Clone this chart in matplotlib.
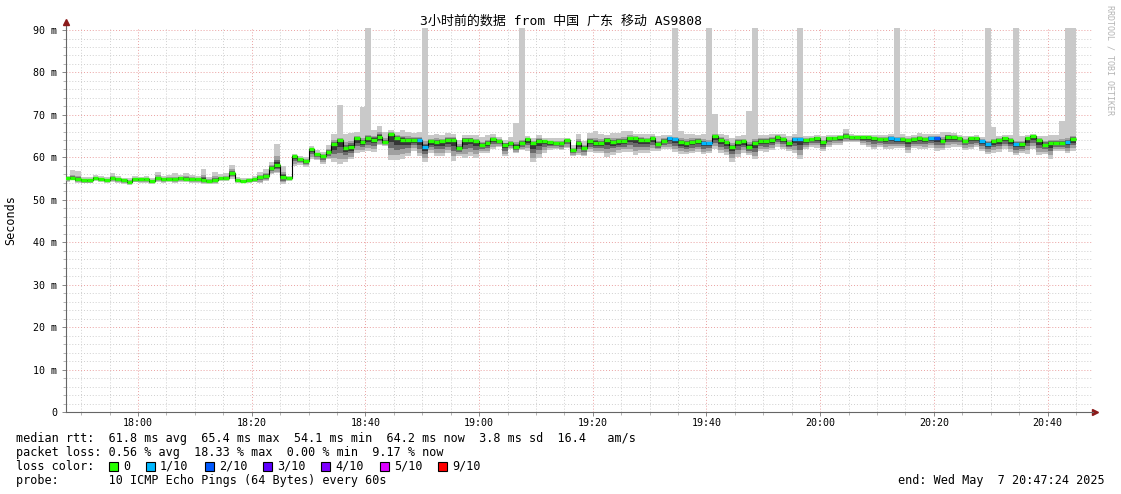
import matplotlib
matplotlib.use("Agg")
import matplotlib.pyplot as plt
from matplotlib.patches import Rectangle
import numpy as np

# --- data (one step = 60 s, first step 17:47) ---
title = "3小时前的数据 from 中国 广东 移动 AS9808"
start_minute = 17 * 60 + 47

median = [
    55.1, 55.1, 54.8, 54.6, 54.6, 55.1, 54.9, 54.7, 55.1, 54.8, 54.6, 54.3, 54.9, 54.8, 54.8, 54.4, 55.1, 54.9, 54.9, 54.9,
    55.2, 55.0, 55.0, 54.9, 54.7, 54.4, 54.7, 55.1, 55.1, 56.4, 54.7, 54.5, 54.6, 54.8, 55.3, 55.6, 57.6, 58.2, 55.4, 55.2,
    60.2, 59.5, 59.2, 61.9, 60.7, 60.3, 61.2, 63.1, 64.0, 62.1, 62.5, 64.5, 63.7, 64.6, 64.2, 64.8, 63.6, 65.5, 64.6, 64.2,
    64.2, 64.2, 64.1, 62.5, 63.8, 63.7, 63.8, 64.1, 64.1, 62.3, 64.2, 64.2, 63.8, 62.9, 63.3, 64.3, 63.8, 63.0, 63.3, 62.5,
    63.3, 64.3, 63.3, 63.9, 63.9, 63.5, 63.3, 63.3, 64.1, 61.7, 63.4, 62.3, 63.8, 63.4, 63.4, 64.2, 63.7, 63.8, 63.8, 64.5,
    64.5, 64.1, 64.0, 64.5, 63.2, 63.9, 64.5, 64.3, 63.5, 63.3, 63.7, 63.9, 63.4, 63.3, 65.0, 64.2, 63.5, 62.5, 63.7, 63.8,
    62.5, 63.3, 63.9, 63.9, 64.1, 64.9, 64.3, 63.3, 64.3, 64.3, 64.1, 64.3, 64.6, 63.5, 64.6, 64.6, 64.7, 65.0, 64.7, 64.7,
    64.7, 64.7, 64.5, 64.3, 64.3, 64.6, 64.3, 64.3, 64.1, 64.3, 64.6, 64.3, 64.6, 64.6, 63.9, 64.9, 64.9, 64.6, 63.9, 64.5,
    64.5, 63.9, 63.1, 63.8, 64.1, 64.6, 64.1, 63.2, 63.1, 64.5, 65.0, 64.1, 63.0, 63.4, 63.4, 63.4, 63.7, 64.3,
]
ping_min = [
    54.2, 54.6, 53.9, 53.9, 53.9, 54.5, 54.3, 54.0, 54.2, 54.0, 53.7, 53.6, 54.1, 53.9, 54.0, 53.7, 54.3, 54.0, 54.2, 54.0,
    54.3, 54.3, 54.0, 54.0, 53.8, 53.8, 53.7, 54.4, 54.4, 55.0, 53.9, 54.0, 54.0, 54.1, 54.0, 54.4, 56.0, 56.2, 53.7, 54.4,
    58.0, 58.3, 57.8, 59.7, 59.3, 58.5, 59.5, 58.8, 58.5, 59.0, 59.5, 61.0, 61.2, 61.5, 61.2, 62.8, 62.6, 59.3, 59.3, 59.7,
    60.2, 61.5, 60.2, 59.0, 61.0, 60.3, 60.3, 61.0, 59.1, 60.3, 59.8, 60.3, 59.8, 61.0, 61.0, 62.0, 62.5, 60.2, 62.0, 61.0,
    61.7, 61.5, 58.8, 59.9, 61.0, 61.7, 62.0, 61.7, 62.1, 60.2, 60.5, 60.2, 61.3, 61.0, 61.0, 60.0, 60.6, 61.0, 61.3, 61.3,
    60.5, 61.0, 61.0, 61.5, 61.5, 62.0, 62.0, 61.3, 60.8, 60.8, 61.0, 61.3, 60.8, 61.0, 62.0, 61.0, 60.5, 59.0, 60.0, 61.0,
    60.5, 59.5, 61.5, 61.3, 61.8, 62.5, 62.0, 61.5, 61.0, 59.5, 62.0, 62.5, 62.3, 61.5, 62.5, 63.0, 63.0, 63.5, 63.5, 63.5,
    63.0, 62.5, 62.0, 62.5, 62.0, 62.0, 62.3, 62.3, 61.0, 62.3, 62.0, 62.0, 62.3, 61.5, 61.8, 62.3, 62.5, 62.5, 61.8, 62.0,
    62.5, 61.5, 60.7, 61.0, 61.3, 62.0, 61.3, 60.5, 61.0, 60.8, 62.0, 60.5, 60.8, 59.6, 61.5, 61.5, 61.0, 61.5,
]
ping_max = [
    55.7, 57.0, 56.8, 55.3, 55.3, 55.8, 55.6, 55.3, 56.3, 55.5, 55.2, 55.1, 55.5, 55.4, 55.5, 55.2, 56.6, 55.6, 55.8, 56.2,
    55.8, 56.3, 55.9, 55.6, 57.2, 55.4, 56.6, 56.0, 56.3, 58.2, 55.3, 55.1, 55.2, 55.5, 56.6, 57.3, 58.8, 63.1, 58.0, 55.6,
    60.8, 60.3, 60.0, 62.6, 61.7, 61.3, 63.0, 65.5, 65.5, 65.5, 65.8, 66.0, 65.5, 66.0, 66.4, 67.5, 66.0, 66.4, 66.0, 66.4,
    66.0, 65.8, 66.0, 65.5, 65.3, 65.5, 65.3, 65.8, 65.5, 64.1, 65.3, 65.3, 65.3, 64.7, 65.3, 65.5, 64.9, 64.1, 64.8, 65.0,
    65.3, 65.0, 64.5, 65.3, 64.5, 64.5, 64.5, 64.5, 64.5, 63.0, 65.5, 63.8, 65.7, 66.1, 65.5, 65.3, 65.7, 65.7, 66.1, 66.1,
    65.5, 65.5, 65.5, 65.5, 65.0, 65.2, 65.3, 65.3, 66.1, 65.5, 65.5, 65.3, 65.5, 65.0, 66.0, 65.5, 65.3, 64.5, 65.0, 65.3,
    65.0, 65.5, 65.3, 65.3, 65.5, 65.5, 65.5, 65.0, 65.5, 65.3, 65.0, 65.0, 65.2, 65.0, 65.3, 65.3, 65.3, 66.6, 65.5, 65.3,
    65.3, 65.3, 65.3, 65.3, 65.3, 65.5, 65.5, 65.5, 65.0, 65.3, 65.8, 65.5, 65.5, 65.5, 66.0, 66.0, 65.7, 65.3, 65.0, 65.0,
    65.3, 64.8, 65.0, 65.0, 65.0, 65.3, 65.3, 65.0, 65.0, 65.3, 65.5, 65.0, 65.0, 65.3, 65.3, 65.5, 65.5, 66.0,
]
# single slow pings (outliers); 95 = off the top of the graph
spike_step = [48, 52, 53, 63, 79, 80, 107, 113, 114, 120, 121, 129, 146, 162, 163, 167, 175, 176, 177]
spike_top = [72.3, 71.9, 95, 95, 68.2, 95, 95, 95, 70.2, 70.9, 95, 95, 95, 95, 67.1, 95, 68.6, 95, 95]
# lost pings out of 10 per step
loss = [
    0, 0, 0, 0, 0, 0, 0, 0, 0, 0, 0, 0, 0, 0, 0, 0, 0, 0, 0, 0,
    0, 0, 0, 0, 0, 0, 0, 0, 0, 0, 0, 0, 0, 0, 0, 0, 0, 0, 0, 0,
    0, 0, 0, 0, 0, 0, 0, 0, 0, 0, 0, 0, 0, 0, 0, 0, 0, 0, 0, 0,
    0, 0, 1, 1, 0, 0, 0, 0, 0, 0, 0, 0, 0, 0, 0, 0, 0, 0, 0, 0,
    0, 0, 0, 0, 0, 0, 0, 0, 0, 0, 0, 0, 0, 0, 0, 0, 0, 0, 0, 0,
    0, 0, 0, 0, 0, 0, 1, 1, 0, 0, 0, 0, 1, 1, 0, 0, 0, 0, 0, 0,
    0, 0, 0, 0, 0, 0, 0, 0, 1, 1, 0, 0, 0, 0, 0, 0, 0, 0, 0, 0,
    0, 0, 0, 0, 0, 1, 1, 0, 0, 0, 0, 0, 1, 2, 0, 0, 0, 0, 0, 0,
    0, 1, 1, 0, 0, 0, 0, 1, 0, 0, 0, 0, 0, 0, 0, 0, 1, 0,
]
loss_labels = ["0", "1/10", "2/10", "3/10", "4/10", "5/10", "9/10"]
loss_colors = ["#26ff00", "#00b8ff", "#0059ff", "#5e00ff", "#7e00ff", "#dd00ff", "#ff0000"]
loss_by_count = {0: "#26ff00", 1: "#00b8ff", 2: "#0059ff", 3: "#5e00ff", 4: "#7e00ff", 5: "#dd00ff", 9: "#ff0000"}

stats_lines = [
    "median rtt:  61.8 ms avg  65.4 ms max  54.1 ms min  64.2 ms now  3.8 ms sd  16.4   am/s",
    "packet loss: 0.56 % avg  18.33 % max  0.00 % min  9.17 % now",
]
probe_line = "probe:       10 ICMP Echo Pings (64 Bytes) every 60s"
end_line = "end: Wed May  7 20:47:24 2025"

W, H = 1121, 494
MONO = ["DejaVu Sans Mono", "Noto Sans CJK SC"]

med = np.array(median)
lo = np.array(ping_min)
hi = np.array(ping_max)
edges = start_minute + np.arange(len(med) + 1)

fig = plt.figure(figsize=(W / 100, H / 100), dpi=100)
ax = fig.add_axes([66.4 / W, (H - 412) / H, (1093 - 66.4) / W, 384.1 / H])

# smoke: light outer band, darker towards the median
ax.stairs(hi, edges, baseline=lo, fill=True, color="#c9c9c9", lw=0, zorder=2)
sb = edges[np.array(spike_step)]
ax.bar(sb, np.array(spike_top) - hi[spike_step], bottom=hi[spike_step], width=1,
       align="edge", color="#c9c9c9", lw=0, zorder=2)
for f_lo, f_hi, c in [(0.22, 0.42, "#a0a0a0"), (0.48, 0.25, "#6a6a6a"), (0.7, 0.13, "#363636")]:
    ax.stairs(med + f_hi * (hi - med), edges, baseline=lo + f_lo * (med - lo),
              fill=True, color=c, lw=0, zorder=3)

# median: thin black step line + loss coloured segments
ax.stairs(med, edges, baseline=None, color="black", lw=0.8, zorder=4)
ax.hlines(med, edges[:-1], edges[1:], colors=[loss_by_count[n] for n in loss],
          lw=2.4, zorder=5, capstyle="butt")

# axes, grid
x0, x1 = start_minute + 0.4, start_minute + 181.0
ax.set_xlim(x0, x1)
ax.set_ylim(0, 90.5)
ax.set_xticks(np.arange(18 * 60, x1, 20))
ax.set_xticks(np.arange(17 * 60 + 50, x1, 5), minor=True)
ax.set_xticklabels([f"{int(v // 60):02d}:{int(v % 60):02d}" for v in ax.get_xticks()])
ax.set_yticks(np.arange(0, 91, 10))
ax.set_yticks(np.arange(0, 91, 2), minor=True)
ax.set_yticklabels(["0"] + [f"{v} m" for v in range(10, 91, 10)])
ax.set_axisbelow(True)
ax.grid(which="minor", color="#cfcfcf", ls=(0, (1, 2)), lw=0.7)
ax.grid(which="major", color="#eaa0a0", ls=(0, (1, 2)), lw=0.7)
for lab in ax.get_xticklabels() + ax.get_yticklabels():
    lab.set_family(MONO)
    lab.set_fontsize(7.2)
ax.tick_params(which="major", length=3, width=0.7, color="#888888")
ax.tick_params(axis="x", which="major", pad=1.5)
ax.tick_params(axis="y", which="major", pad=3.5)
ax.tick_params(which="minor", length=2, width=0.6, color="#aaaaaa")
for s in ["top", "right"]:
    ax.spines[s].set_visible(False)
for s in ["left", "bottom"]:
    ax.spines[s].set_color("#666666")
    ax.spines[s].set_linewidth(0.8)
ax.plot([x0, x0], [90.5, 91.9], color="#666666", lw=0.8, clip_on=False)
ax.plot([x0], [91.9], marker="^", ms=4, color="#8b1a1a", clip_on=False)
ax.plot([x1 + 0.3], [0], marker=">", ms=4, color="#8b1a1a", clip_on=False)

# texts
fig.text(0.5, 1 - 21 / H, title, ha="center", va="center", fontsize=9.4, family=MONO)
fig.text(11 / W, 1 - 220 / H, "Seconds", rotation=90, ha="center", va="center",
         fontsize=8.5, family=MONO)
fig.text(1110 / W, 1 - 60 / H, "RRDTOOL / TOBI OETIKER", rotation=270, ha="center",
         va="center", fontsize=6, color="#b4b4b4", family=MONO)
fig.text(16 / W, 1 - 438 / H, stats_lines[0], va="center", fontsize=8.5, family=MONO)
fig.text(16 / W, 1 - 452 / H, stats_lines[1], va="center", fontsize=8.5, family=MONO)
fig.text(16 / W, 1 - 466 / H, "loss color:", va="center", fontsize=8.5, family=MONO)
box_x = [109, 146, 205, 263, 321, 380, 438]
for bx, lab, c in zip(box_x, loss_labels, loss_colors):
    fig.patches.append(Rectangle((bx / W, 1 - 471 / H), 9 / W, 9 / H, transform=fig.transFigure,
                                 facecolor=c, edgecolor="black", lw=0.8))
    fig.text((bx + 14) / W, 1 - 466 / H, lab, va="center", fontsize=8.5, family=MONO)
fig.text(16 / W, 1 - 480 / H, probe_line, va="center", fontsize=8.5, family=MONO)
fig.text(1105 / W, 1 - 480 / H, end_line, ha="right", va="center", fontsize=8.5, family=MONO)

fig.savefig("out.png", dpi=100)
